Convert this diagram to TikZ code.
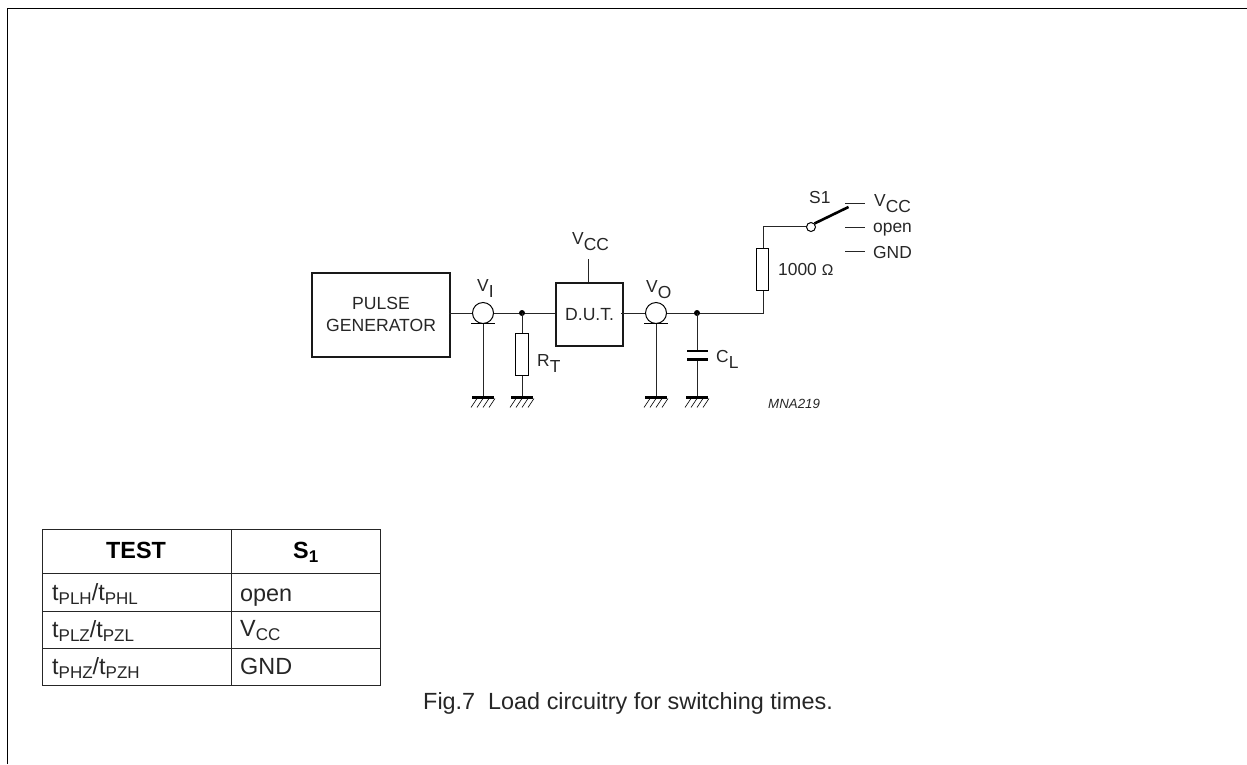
\documentclass[tikz,border=0pt]{standalone}
\usepackage{fontspec}
\setmainfont{Liberation Sans}
\usetikzlibrary{calc}
\newcommand{\subd}[2]{#1\raisebox{-6pt}{#2}}
\newcommand{\subt}[2]{#1\raisebox{-4.5pt}{\fontsize{17}{17}\selectfont #2}}
\tikzset{
  x=1pt,y=-1pt,
  wire/.style={line width=1pt,black!85},
  thick box/.style={draw,line width=2.2pt,black!90,inner sep=0pt,anchor=north west,align=center,text=black!85,font=\fontsize{17.6}{21.5}\selectfont},
  res/.style={draw,line width=1pt,fill=white,inner sep=0pt,minimum width=12.5pt,minimum height=42pt},
  lab/.style={inner sep=0pt,anchor=base west,text=black!85,font=\fontsize{17.4}{20}\selectfont},
  junc/.style={circle,fill=black,inner sep=0pt,minimum size=6pt},
  coax/.style={circle,draw,line width=1pt,inner sep=0pt,minimum size=21pt},
  cell/.style={inner sep=0pt,anchor=base west,text=black!85,font=\fontsize{23.4}{26}\selectfont},
  headcell/.style={inner sep=0pt,anchor=base,font=\bfseries\fontsize{23.4}{26}\selectfont},
  rule/.style={line width=0.9pt,black!85},
}
\newcommand{\gnd}[1]{%
  \draw[line width=2.6pt] ($(#1)+(-11,0)$) -- ($(#1)+(11,0)$);
  \foreach \k in {-9,-3,3,9}{\draw[line width=0.6pt] ($(#1)+(\k+3,1)$) -- ($(#1)+(\k-3,10)$);}
}
\begin{document}
\begin{tikzpicture}
\useasboundingbox (0,0) rectangle (1247,764);
% frame
\draw[line width=1.6pt] (7.5,764) -- (7.5,8.5) -- (1247,8.5);
% boxes
\node[thick box,minimum width=138pt,minimum height=84pt] (pg) at (311,271.5) {PULSE\\GENERATOR};
\node[thick box,minimum width=67pt,minimum height=63pt] (dut) at (555,282) {D.U.T.};
\coordinate (vccd) at (588,259);
\draw[wire] (vccd) -- (588,282);
\node[lab] (vcctop) at (572,244) {\subd{V}{CC}};
% coax
\node[coax] (ci) at (483,313) {};
\node[coax] (co) at (656,313) {};
\coordinate (ji) at (522,313);
\coordinate (jo) at (697,313);
\draw[wire] (449,313) -- (ci.west);
\draw[wire] (ci.east) -- (555,313);
\draw[wire] (621,313) -- (co.west);
\draw[wire] (co.east) -- (763,313) -- (763,226.5) -- (807,226.5);
\node[junc] at (ji) {};
\node[junc] at (jo) {};
\draw[line width=1.2pt] (471,323.5) -- (495,323.5);
\draw[line width=1.2pt] (644,323.5) -- (668,323.5);
\coordinate (gi) at (483,397.5);
\coordinate (gr) at (522,397.5);
\coordinate (go) at (656,397.5);
\coordinate (gc) at (697,397.5);
\draw[wire] (483,324) -- (gi);
\draw[wire] (656,324) -- (go);
\draw[wire] (ji) -- (gr);
\node[res] (rt) at (522,354) {};
\node[res] (r1) at (762.5,269) {};
% capacitor
\draw[wire] (jo) -- (697,351);
\draw[wire] (697,359) -- (gc);
\draw[line width=2.8pt] (687,351) -- (708,351);
\draw[line width=2.8pt] (687,359.5) -- (708,359.5);
\gnd{gi}\gnd{gr}\gnd{go}\gnd{gc}
% switch
\node[circle,draw,line width=1pt,fill=white,inner sep=0pt,minimum size=9pt] (sw) at (811,227) {};
\draw[line width=2.6pt] (sw.north east) -- (848.5,207);
\draw[wire] (845,203) -- (865,203);
\draw[wire] (845,227) -- (865,227);
\draw[wire] (845,251) -- (865,251);
% labels
\node[lab] at (477,291) {\subd{V}{I}};
\node[lab] at (646,292) {\subd{V}{O}};
\node[lab] at (537,366) {\subd{R}{T}};
\node[lab] at (716,362) {\subd{C}{L}};
\node[lab] at (809,203) {S1};
\node[lab] at (874,206) {\subd{V}{CC}};
\node[lab] at (873,232) {open};
\node[lab] at (873,258) {GND};
\node[lab] at (778,275) {1000 {\fontsize{15.5}{16}\selectfont Ω}};
\node[lab,font=\itshape\fontsize{13.3}{15}\selectfont] at (768,408) {MNA219};
% table
\draw[rule] (42,529) rectangle (380,685);
\draw[rule] (231,529) -- (231,685);
\draw[rule] (42,573) -- (380,573);
\draw[rule] (42,611) -- (380,611);
\draw[rule] (42,648) -- (380,648);
\node[headcell] at (136,558) {TEST};
\node[headcell,anchor=base west] at (293,558) {\subt{S}{\bfseries 1}};
\node[cell] at (52,600) {\subt{t}{PLH}/\subt{t}{PHL}};
\node[cell] at (52,637) {\subt{t}{PLZ}/\subt{t}{PZL}};
\node[cell] at (52,674) {\subt{t}{PHZ}/\subt{t}{PZH}};
\node[cell] at (240,601) {open};
\node[cell] at (240,636) {\subt{V}{CC}};
\node[cell] at (240,674) {GND};
\node[cell] at (423,709) {Fig.7\ \ Load circuitry for switching times.};
\end{tikzpicture}
\end{document}
